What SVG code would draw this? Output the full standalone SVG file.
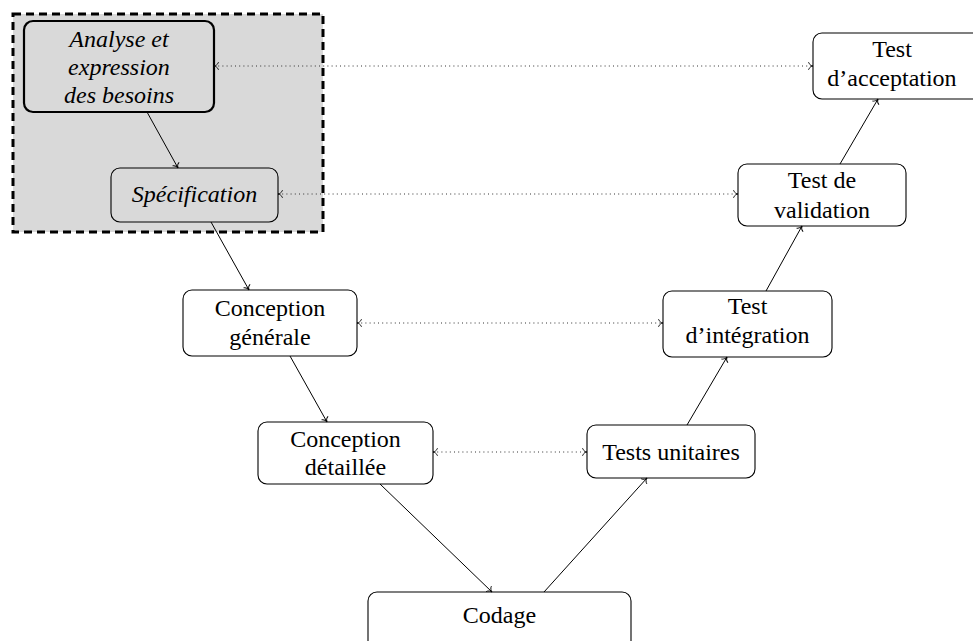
<svg xmlns="http://www.w3.org/2000/svg" width="973" height="641" viewBox="0 0 973 641">
<defs>
<marker id="arr" markerUnits="userSpaceOnUse" markerWidth="12" markerHeight="12" viewBox="-6 -6 12 12" refX="0" refY="0" orient="auto-start-reverse" overflow="visible">
<path d="M-4.5,-3.8 C-3.8,-1.4 -1.6,-0.3 0,0 C-1.6,0.3 -3.8,1.4 -4.5,3.8" fill="none" stroke="#000" stroke-width="0.9"/>
</marker>
<style>
.box{fill:#fff;stroke:#000;stroke-width:1.1}
.inbox{fill:none;stroke:#000;stroke-width:1.1}
.thick{fill:none;stroke:#000;stroke-width:2.2}
text{font-size:24px;fill:#000;text-anchor:middle}
.it{font-style:italic}
.solid{stroke:#000;stroke-width:1;fill:none;marker-end:url(#arr)}
.dot{stroke:#333;stroke-width:1;fill:none;stroke-dasharray:1 3.2;marker-start:url(#arr);marker-end:url(#arr)}
</style>
</defs>
<rect width="973" height="641" fill="#fff"/>
<rect id="group" x="13" y="14" width="310" height="218" fill="#d9d9d9" stroke="#000" stroke-width="3" stroke-dasharray="8 5"/>

<g id="nodes" font-family="'Liberation Serif', 'Times New Roman', Times, 'DejaVu Serif', serif">
<g id="analyse">
<rect class="thick" x="24" y="21" width="190" height="91" rx="9"/>
<text class="it" x="119" y="47">Analyse et</text>
<text class="it" x="119" y="75">expression</text>
<text class="it" x="119" y="103">des besoins</text>
</g>
<g id="specification">
<rect class="inbox" x="111" y="168" width="167" height="54" rx="9"/>
<text class="it" x="194.500" y="202">Spécification</text>
</g>
<g id="conception-generale">
<rect class="box" x="183" y="290" width="174" height="66" rx="9"/>
<text x="270" y="316">Conception</text>
<text x="270" y="345">générale</text>
</g>
<g id="conception-detaillee">
<rect class="box" x="258" y="422" width="175" height="62" rx="9"/>
<text x="345.500" y="447">Conception</text>
<text x="345.500" y="475">détaillée</text>
</g>
<g id="codage">
<rect class="box" x="368" y="592" width="263" height="70" rx="9"/>
<text x="499.500" y="623">Codage</text>
</g>
<g id="tests-unitaires">
<rect class="box" x="587" y="425" width="168" height="53" rx="9"/>
<text x="671" y="460">Tests unitaires</text>
</g>
<g id="test-integration">
<rect class="box" x="663" y="291" width="169" height="66" rx="9"/>
<text x="747.500" y="314">Test</text>
<text x="747.500" y="343">d’intégration</text>
</g>
<g id="test-validation">
<rect class="box" x="738" y="164" width="168" height="62" rx="9"/>
<text x="822" y="188">Test de</text>
<text x="822" y="218">validation</text>
</g>
<g id="test-acceptation">
<rect class="box" x="813" y="33" width="170" height="66" rx="9"/>
<text x="892" y="57">Test</text>
<text x="892" y="86">d’acceptation</text>
</g>
</g>

<g id="connectors">
<line class="solid" x1="147" y1="112" x2="178" y2="168"/>
<line class="solid" x1="211" y1="222" x2="249" y2="290"/>
<line class="solid" x1="290" y1="356" x2="327" y2="422"/>
<line class="solid" x1="380" y1="484" x2="492" y2="592"/>
<line class="solid" x1="544" y1="592" x2="647" y2="478"/>
<line class="solid" x1="687" y1="425" x2="727" y2="357"/>
<line class="solid" x1="766" y1="291" x2="802" y2="226"/>
<line class="solid" x1="840" y1="164" x2="878" y2="99"/>
<line class="dot" x1="214" y1="66" x2="813" y2="66"/>
<line class="dot" x1="278" y1="194" x2="738" y2="194"/>
<line class="dot" x1="357" y1="323" x2="663" y2="323"/>
<line class="dot" x1="433" y1="452" x2="587" y2="452"/>
</g>
</svg>
